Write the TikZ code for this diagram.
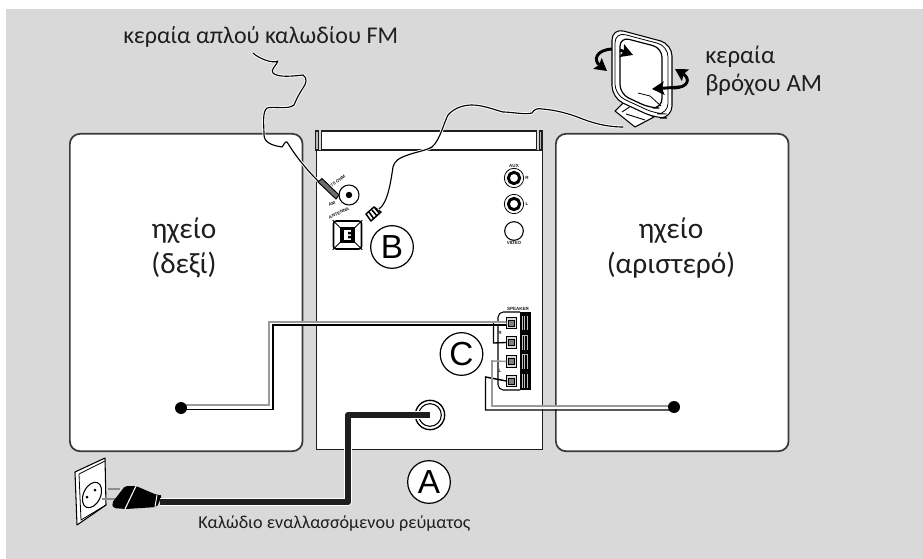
\documentclass[tikz,border=0pt]{standalone}
\usepackage{fontspec}
\usetikzlibrary{arrows.meta}
\setmainfont{Carlito}
\setsansfont{Liberation Sans}
\definecolor{bg}{HTML}{D9D9D9}
\definecolor{ink}{HTML}{1E1E1E}
\definecolor{edge}{HTML}{3A3A3A}
\definecolor{wire}{HTML}{9A9A9A}
\tikzset{
  panel/.style={draw=edge,line width=1.3pt,fill=white,rounded corners=7.5pt},
  unit/.style={draw=ink,line width=.9pt,fill=white},
  strip/.style={draw=ink,line width=.9pt,fill=bg!85!black},
  label/.style={font=\fontsize{18}{21}\selectfont,text=ink,inner sep=0pt},
  biglabel/.style={font=\fontsize{22}{26}\selectfont,text=ink,align=center,inner sep=0pt},
  letter/.style={circle,draw=black,line width=.9pt,fill=white,minimum size=32pt,inner sep=0pt,font=\sffamily\fontsize{25}{25}\selectfont},
  tiny/.style={font=\sffamily\bfseries\fontsize{3.4}{4}\selectfont,inner sep=0pt,text=ink},
  halo/.style={draw=white,line width=2.2pt,line cap=round,line join=round},
  thin wire/.style={draw=black,line width=.85pt,line cap=round,line join=round},
  jack/.style={circle,draw=black,line width=.6pt,fill=white,minimum size=14.5pt,inner sep=0pt},
  jackring/.style={circle,draw=black,line width=2.2pt,fill=white,minimum size=8.5pt,inner sep=0pt},
  term/.style={draw=black,line width=.7pt,fill=white!85!black,minimum width=7pt,minimum height=8.5pt,inner sep=0pt},
  rot arrow/.style={black,line width=2.2pt,-{Stealth[length=9pt,width=10pt,inset=1.5pt]}},
  band upper/.style={draw=wire,line width=1.2pt,line join=miter},
  band lower/.style={draw=black,line width=1.1pt,line join=miter},
  fm path/.style={insert path={(fmstart) .. controls (258,58) and (272,64) .. (278,61) .. controls (276,66) and (270,70) .. (273,73) .. controls (278,78) and (294,76) .. (303,75) .. controls (308,78) and (306,84) .. (303,88) .. controls (299,94) and (297,98) .. (294,105) .. controls (288,110) and (274,106) .. (267,108) .. controls (262,112) and (264,125) .. (264,135) .. controls (264,144) and (276,146) .. (282,147) .. controls (284,145) and (285,141) .. (287,142) .. controls (295,155) and (305,168) .. (fmtip)}},
  am path/.style={insert path={(amend) .. controls (388,203) and (391,180) .. (393,167) .. controls (395,160) and (400,158) .. (405,156) .. controls (415,152) and (425,151) .. (432,147) .. controls (440,140) and (443,125) .. (448,115) .. controls (455,107) and (465,105) .. (472,105) .. controls (483,105) and (495,110) .. (503,112) .. controls (512,112) and (525,115) .. (532,113) .. controls (534,109) and (538,108) .. (542,109) .. controls (556,110) and (570,114) .. (580,118) .. controls (590,122) and (605,127) .. (amstart)}},
}
\begin{document}
\begin{tikzpicture}[x=.75pt,y=-.75pt]
\useasboundingbox (0,0) rectangle (923,559);
\fill[white] (0,0) rectangle (923,559);
\fill[bg] (6,9) rectangle (923,559);
% speakers
\node[panel,minimum width=174.5pt,minimum height=238pt,anchor=north west] (spkR) at (69,133) {};
\node[panel,minimum width=174.5pt,minimum height=238pt,anchor=north west] (spkL) at (555,133) {};
\node[biglabel] (tR) at (184,248) {ηχείο\\(δεξί)};
\node[biglabel] (tL) at (671,248) {ηχείο\\(αριστερό)};
% unit
\draw[strip] (315.5,131) rectangle (318.5,150);
\draw[strip] (539.5,131) rectangle (542,150);
\draw[unit] (321.5,131) rectangle (536.5,150);
\node[unit,minimum width=170pt,minimum height=224pt,anchor=north west] (body) at (315.5,150) {};
% rear connectors
\node[circle,draw=black,line width=.8pt,fill=white,minimum size=15pt,inner sep=0pt] (fmjack) at (349,195) {};
\fill (fmjack) circle (3.2);
\node[tiny,rotate=35] at (338,181) {75 OHM};
\node[tiny,rotate=25] at (332,204) {AM};
\node[tiny,rotate=25] at (339,213) {ANTENNA};
\node[jack] (aux1) at (514,178) {};
\node[jackring] at (aux1) {};
\node[jack] (aux2) at (514,204) {};
\node[jackring] at (aux2) {};
\node[circle,draw=black,line width=.8pt,fill=white,minimum size=14pt,inner sep=0pt] (video) at (514,231) {};
\node[tiny] at (514,166) {AUX};
\node[tiny] at (527,178) {R};
\node[tiny] at (527,204) {L};
\node[tiny] at (514,242.5) {VIDEO};
% AM socket
\node[draw=black,line width=1.2pt,fill=white,rounded corners=2pt,minimum size=21pt,inner sep=0pt] (amsock) at (347.5,235) {};
\draw[black,line width=.6pt] (amsock.north west)--(amsock.south east) (amsock.north east)--(amsock.south west);
\node[fill=black,minimum width=11pt,minimum height=12pt,inner sep=0pt] (amcore) at (347.5,235) {};
\fill[white] (344,230) rectangle (351,240);
\fill[black] (348,232) rectangle (351,234.5) (348,236) rectangle (351,238.5);
% AM plug
\filldraw[fill=white,draw=black,line width=1.1pt,line join=round] (366,214) -- (374,207) -- (381,212) -- (371,221) -- cycle;
\draw[black,line width=1.2pt] (369,212) -- (374,219) (372,210) -- (377,216) (375,208) -- (379,213);
\coordinate (amplugtop) at (379,209);
% FM wire
\coordinate (fmstart) at (253,53);
\coordinate (fmtip) at (319,182);
\draw[halo,fm path];
\draw[thin wire,fm path];
\fill[wire!70!black,draw=black,line width=.7pt] (318,182) -- (322,178.5) -- (339,195) -- (336,199) -- cycle;
% AM wire
\coordinate (amend) at (379,209);
\coordinate (amstart) at (623,127);
% loop antenna
\filldraw[fill=white,draw=black,line width=.8pt,line join=round] (615,111) -- (624,102) -- (654,117) -- (635,127) -- cycle;
\draw[black,line width=.7pt] (622,112) -- (631,106) (626,114)--(645,120);
\filldraw[fill=white,draw=black,line width=.8pt,rounded corners=9pt] (612,28) -- (672,44) -- (672,118) -- (655,118) -- (612,98) -- cycle;
\draw[black,line width=.6pt,rounded corners=8pt] (615,32) -- (668,46) -- (668,114) -- (656,114) -- (615,95) -- cycle;
\draw[black,line width=.9pt,rounded corners=7pt] (620,37) -- (662,48) -- (662,108) -- (650,108) -- (620,94) -- cycle;
\draw[black,line width=.6pt] (638,93) -- (650,96) -- (661,106);
\draw[halo,am path];
\draw[thin wire,am path];
% rotation arrows
\draw[rot arrow] (612,49) .. controls (596,50) and (593,60) .. (607,71);
\draw[rot arrow] (620,50) -- (633,55);
\draw[rot arrow] (672,88) .. controls (690,88) and (690,78) .. (675,69);
\draw[rot arrow] (680,87) -- (652,89);
% text labels
\node[label,anchor=west] (tFM) at (123,37) {κεραία απλού καλωδίου FM};
\node[label,font=\fontsize{18.6}{21}\selectfont,anchor=west] (tAM1) at (705,57) {κεραία};
\node[label,font=\fontsize{18.6}{21}\selectfont,anchor=west] (tAM2) at (705,85) {βρόχου AM};
\node[label,font=\fontsize{13.6}{16}\selectfont,anchor=west] (tAC) at (198,524) {Καλώδιο εναλλασσόμενου ρεύματος};
% speaker terminal block
\draw[black,line width=.8pt,fill=white,rounded corners=4pt] (520,390)--(498,390) -- (498,312)--(520,312);
\fill[black] (520,312) rectangle (531,390);
\foreach \y/\n in {323/a,342.5/b,361.5/c,381/d}{
  \node[term] (t\n) at (511.5,\y) {};
  \node[draw=black,line width=.5pt,fill=white!50!black,minimum width=4.5pt,minimum height=4.5pt,inner sep=0pt] at (511.5,\y) {};
  \node[fill=white!75!black,minimum width=5pt,minimum height=11pt,inner sep=0pt] (c\n) at (525,\y) {};
  \draw[black,line width=.4pt] (523.5,\y-7) -- (523.5,\y+7) (525,\y-7) -- (525,\y+7) (526.5,\y-7) -- (526.5,\y+7);
}
\node[tiny] at (518,308.5) {SPEAKER};
\node[tiny] at (500,333) {R};
\node[tiny] at (500,371) {L};
% speaker wires
\coordinate (dotR) at (181,408);
\coordinate (dotL) at (674,407);
\draw[white,line width=2.6pt] (dotR) ++(0,-1) -- (271,407) -- (271,323.5) -- (ta.west);
\draw[band upper] (181,405) -- (269,405) -- (269,322) -- (ta.west |- 0,322);
\draw[band lower] (181,409.5) -- (273,409.5) -- (273,325) -- (ta.west |- 0,325);
\draw[black,line width=1pt] (493.5,323) -- (493.5,343) -- (tb.west);
\draw[white,line width=2.6pt] (488,408) -- (dotL);
\draw[band lower] (td.west) -- (485.5,377) -- (485.5,410) -- (674,410);
\draw[band upper] (tc.west) -- (492,361) -- (492,406) -- (674,406);
\fill[black] (dotR) circle (6);
\fill[black] (dotL) circle (6);
% power socket
\node[circle,draw=black,line width=1pt,fill=white,minimum size=22pt,inner sep=0pt] (pow) at (430,415) {};
\node[circle,draw=black,line width=.8pt,fill=white,minimum size=17pt,inner sep=0pt] at (pow) {};
\coordinate (plugend) at (160,502);
% wall socket
\filldraw[fill=white,draw=black,line width=.8pt,line join=round] (75,472) -- (105,458) -- (106,505) -- (77,525) -- cycle;
\draw[black,line width=.6pt] (79,474) -- (105,461) (79,474) -- (81,520) -- (106,505);
\draw[black,line width=.8pt,rotate around={-25:(92,495)}] (92,495) ellipse (8.5 and 13.5);
\fill[black] (87,497) circle (1.5) (95,490) circle (1.5);
\draw[white!55!black,line width=2pt] (108,489) -- (120,489);
\draw[white!55!black,line width=2pt] (102,499) -- (116,499);
% plug
\fill[black,rounded corners=1.5pt] (112,503) -- (125,486) -- (136,486) -- (157,495) -- (162,495) -- (157,507) -- (126,509) -- (113,508) -- cycle;
\draw[white,line width=.8pt] (125,509) -- (136,486);
\draw[white,line width=.7pt] (157,495) -- (155,507);
% mains cable
\draw[white,line width=5.6pt,line join=round] (plugend) -- (348,502) -- (348,415) -- (pow.center);
\draw[ink,line width=4.4pt,line join=round] (plugend) -- (348,502) -- (348,415) -- (pow.center);
% letters
\node[letter] (lA) at (429,482) {A};
\node[letter] (lB) at (392,247) {B};
\node[letter] (lC) at (461.5,354) {C};
\end{tikzpicture}
\end{document}
